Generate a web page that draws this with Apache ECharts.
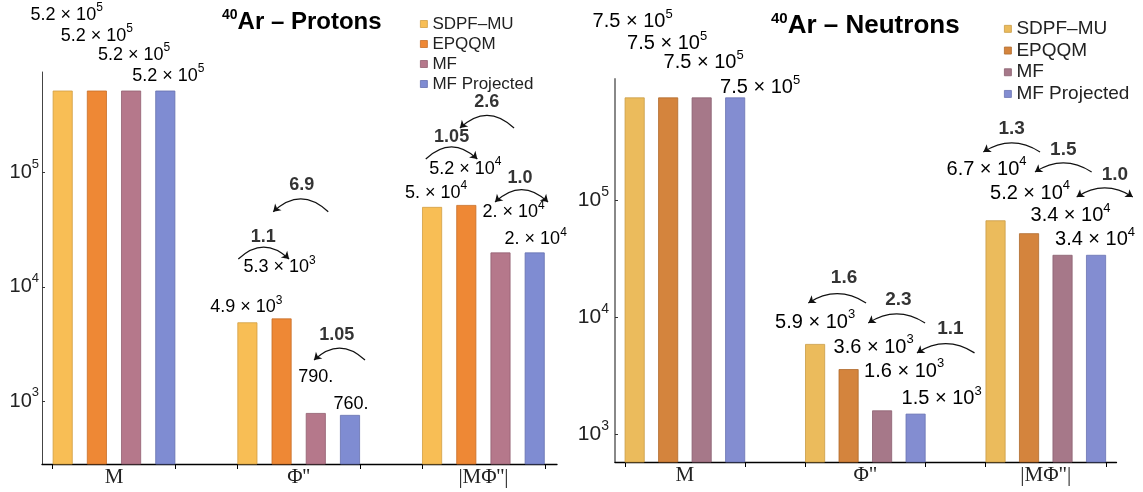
<!DOCTYPE html>
<html><head><meta charset="utf-8">
<script src="https://cdn.jsdelivr.net/npm/echarts@6/dist/echarts.min.js"></script>
<style>html,body{margin:0;padding:0;background:#fff}#c{width:1143px;height:492px}</style>
</head><body><div id="c"></div>
<script>
// ---------------- data ----------------
const seriesNames = ['SDPF–MU', 'EPQQM', 'MF', 'MF Projected'];
const protonCategories = ['M', "Φ''", "|MΦ''|"];
const neutronCategories = ['M', 'Φ"', '|MΦ"|'];
const protonSDPF   = [5.2e5, 4.9e3, 5.0e4];
const protonEPQQM  = [5.2e5, 5.3e3, 5.2e4];
const protonMF     = [5.2e5, 790, 2.0e4];
const protonMFProj = [5.2e5, 760, 2.0e4];
const neutronSDPF   = [7.5e5, 5.9e3, 6.7e4];
const neutronEPQQM  = [7.5e5, 3.6e3, 5.2e4];
const neutronMF     = [7.5e5, 1.6e3, 3.4e4];
const neutronMFProj = [7.5e5, 1.5e3, 3.4e4];
const yTickValues = [1e3, 1e4, 1e5];
const protonRatios = ['6.9', '1.1', '1.05', '2.6', '1.05', '1.0'];
const neutronRatios = ['1.6', '2.3', '1.1', '1.3', '1.5', '1.0'];
const protonTitle = 'Ar – Protons';
const neutronTitle = 'Ar – Neutrons';
const massNumber = '40';

// ---------------- layout / style ----------------
const FONT = '"Liberation Sans", Arial, Helvetica, sans-serif';
const SERIF = '"Liberation Serif", "Times New Roman", serif';
const layouts = [
  {
    grid: {left: 42, top: 72, width: 515, height: 392},
    xMin: -0.3898, xMax: 2.3985, yLog: [2.452, 5.8785],
    barGap: '71%', fontVal: 18, lhVal: 26, supVal: 12,
    tickFont: 20, tickSup: 13, catFont: 21, ratioFont: 18,
    axisColor: '#444', axisWidth: 1, labelMargin: 3,
    colors: ['#F8BE55', '#EE8835', '#B5788B', '#7F8CD2'],
    borders: ['#D29E42', '#C76E28', '#926070', '#6670AE'],
    legend: {left: 415, top: 9, fontSize: 17, lineHeight: 20},
    title: {left: 217, top: 3, fontSize: 24, lineHeight: 28, sup: 14},
    // offsets[series][category] = [dx, distance of label centre above bar top]
    offsets: [
      [[4, 76], [-1, 15], [4, 14]],
      [[0, 55], [-2, 51], [-1, 36]],
      [[3, 36], [0, 36], [13, 40]],
      [[3, 15], [1, 11], [1, 13]]
    ],
    // annotation arcs: [x1, log10 y1, x2, log10 y2, labelX, label log10 y, doubleHead]
    annot: [
      [1.160, 4.657, 0.862, 4.657, 1.016, 4.891, false],
      [0.673, 4.244, 0.948, 4.244, 0.808, 4.436, false],
      [1.359, 3.361, 1.083, 3.361, 1.206, 3.580, false],
      [2.166, 5.389, 1.873, 5.389, 2.018, 5.616, false],
      [1.688, 5.118, 1.967, 5.118, 1.828, 5.310, false],
      [2.063, 4.742, 2.350, 4.742, 2.198, 4.952, true]
    ],
    curv: 0.47
  },
  {
    grid: {left: 615, top: 79, width: 501.5, height: 383},
    xMin: -0.3874, xMax: 2.3918, yLog: [2.7637, 6.0324],
    barGap: '67.5%', fontVal: 20, lhVal: 28, supVal: 13,
    tickFont: 21, tickSup: 14, catFont: 21, ratioFont: 19,
    axisColor: '#888', axisWidth: 2, labelMargin: 6,
    colors: ['#EBBB5C', '#D4843D', '#A67889', '#838DD1'],
    borders: ['#C99C45', '#B06A2C', '#8A6070', '#6A74B2'],
    legend: {left: 999, top: 13, fontSize: 19, lineHeight: 21.7},
    title: {left: 766, top: 6, fontSize: 26, lineHeight: 30, sup: 15},
    offsets: [
      [[-2, 76], [0, 22], [-9, 51]],
      [[-1, 54], [25, 22], [1, 40]],
      [[2, 35], [22, 39], [8, 39]],
      [[25, 10], [26, 15], [-1, 15]]
    ],
    annot: [
      [1.004, 4.121, 0.684, 4.121, 0.882, 4.334, false],
      [1.331, 3.951, 1.016, 3.951, 1.183, 4.147, false],
      [1.605, 3.695, 1.286, 3.695, 1.471, 3.899, false],
      [1.968, 5.410, 1.654, 5.410, 1.811, 5.606, false],
      [2.254, 5.239, 1.940, 5.239, 2.097, 5.427, false],
      [2.171, 5.026, 2.482, 5.026, 2.383, 5.213, true]
    ],
    curv: 0.32
  }
];

const panels = [
  {values: [protonSDPF, protonEPQQM, protonMF, protonMFProj], cats: protonCategories, ratios: protonRatios, title: protonTitle},
  {values: [neutronSDPF, neutronEPQQM, neutronMF, neutronMFProj], cats: neutronCategories, ratios: neutronRatios, title: neutronTitle}
];

function fmtValue(v) {
  if (v < 1000) return '{m|' + v + '.}';
  const e = Math.floor(Math.log10(v) + 1e-9);
  const r = Math.round(v / Math.pow(10, e) * 10) / 10;
  const ms = Number.isInteger(r) ? r + '.' : r.toFixed(1);
  return '{m|' + ms + ' × 10}{s|' + e + '}';
}

const option = {
  backgroundColor: '#fff',
  animation: false,
  title: [], legend: [], grid: [], xAxis: [], yAxis: [], series: []
};

panels.forEach((P, i) => {
  const L = layouts[i];
  option.title.push({
    left: L.title.left, top: L.title.top,
    text: '{s|' + massNumber + '}{b|' + P.title + '}',
    textStyle: {rich: {
      s: {fontSize: L.title.sup, fontWeight: 'bold', lineHeight: L.title.sup, verticalAlign: 'top', fontFamily: FONT, color: '#000'},
      b: {fontSize: L.title.fontSize, fontWeight: 'bold', lineHeight: L.title.lineHeight, fontFamily: FONT, color: '#000'}
    }}
  });
  option.legend.push({
    left: L.legend.left, top: L.legend.top, orient: 'vertical',
    itemWidth: 7, itemHeight: 7, itemGap: 0, icon: 'rect', selectedMode: false,
    textStyle: {fontSize: L.legend.fontSize, lineHeight: L.legend.lineHeight, color: '#222', fontFamily: FONT},
    data: seriesNames.map((n, k) => ({name: n, itemStyle: {color: L.colors[k], borderColor: L.borders[k], borderWidth: 0.8}}))
  });
  option.grid.push(Object.assign({containLabel: false, outerBoundsMode: 'none'}, L.grid));
  const edgeTicks = [];
  P.cats.forEach((c, k) => { edgeTicks.push(k - 1 / 3, k + 1 / 3); });
  option.xAxis.push({
    type: 'value', gridIndex: i, min: L.xMin, max: L.xMax,
    splitLine: {show: false},
    axisLine: {show: true, onZero: false, lineStyle: {color: '#000', width: 1.3}},
    axisTick: {show: true, customValues: edgeTicks, length: 5, lineStyle: {color: '#000', width: 1}},
    axisLabel: {show: true, customValues: P.cats.map((c, k) => k), formatter: v => P.cats[Math.round(v)],
      fontFamily: SERIF, fontSize: L.catFont, color: '#222', margin: 3}
  });
  option.yAxis.push({
    type: 'log', logBase: 10, gridIndex: i,
    min: Math.pow(10, L.yLog[0]), max: Math.pow(10, L.yLog[1]),
    splitLine: {show: false}, minorTick: {show: false},
    axisLine: {show: true, onZero: false, lineStyle: {color: L.axisColor, width: L.axisWidth}},
    axisTick: {show: true, inside: true, length: 3, customValues: yTickValues, lineStyle: {color: '#333'}},
    axisLabel: {
      customValues: yTickValues, margin: L.labelMargin,
      formatter: v => '{m|10}{s|' + Math.round(Math.log10(v)) + '}',
      rich: {
        m: {fontSize: L.tickFont, lineHeight: 30, fontFamily: FONT, color: '#222'},
        s: {fontSize: L.tickSup, lineHeight: L.tickSup, verticalAlign: 'top', fontFamily: FONT, color: '#222'}
      }
    }
  });
  P.values.forEach((vals, k) => {
    option.series.push({
      type: 'bar', name: seriesNames[k], xAxisIndex: i, yAxisIndex: i,
      barWidth: 20, barGap: L.barGap,
      itemStyle: {color: L.colors[k], borderColor: L.borders[k], borderWidth: 0.8},
      data: vals.map((v, c) => ({
        value: [c, v],
        label: {offset: [L.offsets[k][c][0], L.lhVal / 2 - L.offsets[k][c][1]]}
      })),
      label: {
        show: true, position: 'top', distance: 0,
        formatter: p => fmtValue(p.value[1]),
        rich: {
          m: {fontSize: L.fontVal, lineHeight: L.lhVal, fontFamily: FONT, color: '#000'},
          s: {fontSize: L.supVal, lineHeight: L.supVal, verticalAlign: 'top', fontFamily: FONT, color: '#000'}
        }
      }
    });
  });
  const mkLines = (dbl) => ({
    type: 'lines', coordinateSystem: 'cartesian2d', xAxisIndex: i, yAxisIndex: i,
    symbol: dbl ? ['arrow', 'arrow'] : ['none', 'arrow'], symbolSize: 7,
    clip: false, silent: true, z: 5,
    lineStyle: {color: '#111', width: 1.2, opacity: 1},
    data: L.annot.filter(a => a[6] === dbl).map(a => ({
      coords: [[a[0], Math.pow(10, a[1])], [a[2], Math.pow(10, a[3])]],
      lineStyle: {curveness: L.curv * Math.sign(a[2] - a[0])}
    }))
  });
  option.series.push(mkLines(false), mkLines(true));
  option.series.push({
    type: 'scatter', xAxisIndex: i, yAxisIndex: i, symbolSize: 0, clip: false, silent: true, z: 6,
    data: L.annot.map((a, k) => [a[4], Math.pow(10, a[5]), P.ratios[k]]),
    label: {show: true, position: 'inside', formatter: p => p.value[2],
      fontWeight: 'bold', fontSize: L.ratioFont, color: '#000', fontFamily: FONT}
  });
});

const chart = echarts.init(document.getElementById('c'), null, {renderer: 'canvas'});
chart.setOption(option);
</script>
</body></html>
